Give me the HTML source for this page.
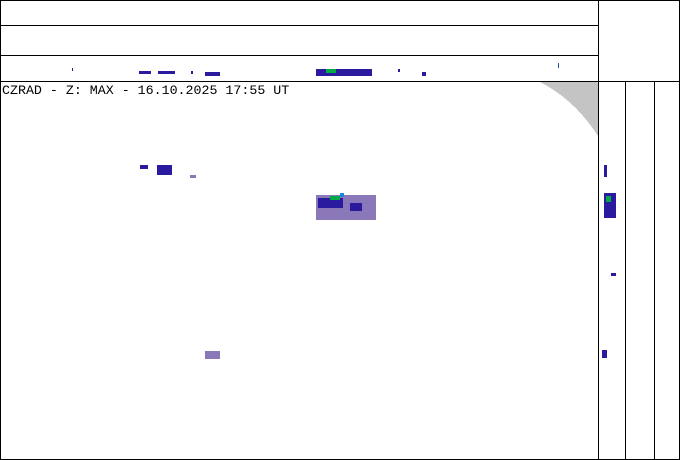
<!DOCTYPE html>
<html><head><meta charset="utf-8"><style>
html,body{margin:0;padding:0;background:#fff;}
svg{display:block;}
text{font-family:"Liberation Mono",monospace;}
</style></head><body>
<svg width="680" height="460" viewBox="0 0 680 460" xmlns="http://www.w3.org/2000/svg" shape-rendering="crispEdges">
<rect width="680" height="460" fill="#fff"/>
<!-- grey arc -->
<path d="M540,82 Q575,100 598,136 L598,82 Z" fill="#c4c4c4"/>
<!-- frame -->
<rect x="0.5" y="0.5" width="679" height="459" fill="none" stroke="#000"/>
<line x1="0" y1="25.5" x2="598" y2="25.5" stroke="#000"/>
<line x1="0" y1="55.5" x2="598" y2="55.5" stroke="#000"/>
<line x1="0" y1="81.5" x2="680" y2="81.5" stroke="#000"/>
<line x1="598.5" y1="0" x2="598.5" y2="460" stroke="#000"/>
<line x1="625.5" y1="81" x2="625.5" y2="460" stroke="#000"/>
<line x1="654.5" y1="81" x2="654.5" y2="460" stroke="#000"/>
<text x="2" y="94" font-size="13.3" fill="#000">CZRAD - Z: MAX - 16.10.2025 17:55 UT</text>
<!-- top strip echoes -->
<g fill="#2a1aa0">
<rect x="72" y="68" width="1" height="3"/>
<rect x="139" y="71" width="12" height="3"/>
<rect x="158" y="71" width="17" height="3"/>
<rect x="191" y="71" width="2" height="3"/>
<rect x="205" y="72" width="15" height="4"/>
<rect x="316" y="69" width="56" height="7"/>
<rect x="398" y="69" width="2" height="3"/>
<rect x="422" y="72" width="4" height="4"/>
</g>
<rect x="558" y="63" width="1" height="5" fill="#2a4aa0"/>
<rect x="326" y="69" width="10" height="4" fill="#00aa44"/>
<!-- main echoes -->
<g fill="#8a78b8">
<rect x="316" y="195" width="60" height="25"/>
<rect x="205" y="351" width="15" height="8"/>
<rect x="190" y="175" width="6" height="3"/>
</g>
<g fill="#2a1aa0">
<rect x="318" y="198" width="25" height="10"/>
<rect x="350" y="203" width="12" height="8"/>
<rect x="157" y="165" width="15" height="10"/>
<rect x="140" y="165" width="8" height="4"/>
<rect x="604" y="165" width="3" height="12"/>
<rect x="604" y="193" width="12" height="25"/>
<rect x="602" y="350" width="5" height="8"/>
<rect x="611" y="273" width="5" height="3"/>
</g>
<rect x="330" y="196" width="10" height="4" fill="#00aa44"/>
<rect x="606" y="196" width="5" height="6" fill="#00aa44"/>
<rect x="340" y="193" width="4" height="4" fill="#1a88dd"/>
</svg>
</body></html>
